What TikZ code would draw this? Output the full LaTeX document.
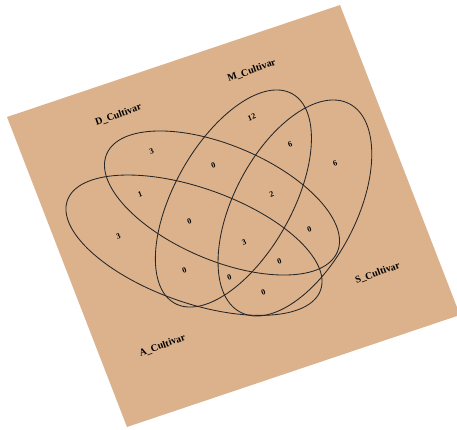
\documentclass[tikz,border=0pt]{standalone}
\usepackage{fontspec}
\setmainfont{Liberation Serif}
\definecolor{tanbg}{RGB}{219,178,140}

\begin{document}
\begin{tikzpicture}[
  x=1pt, y=1pt,
  set/.style={draw=black!85, line width=0.85pt},
  count/.style={font=\bfseries\fontsize{8}{9}\selectfont, rotate=20, inner sep=0pt},
  setname/.style={font=\bfseries\fontsize{10}{12}\selectfont, rotate=20, inner sep=0pt}
]
\useasboundingbox (0,0) rectangle (457,429);
\clip (0,0) rectangle (457,429);

% tilted background sheet
\fill[tanbg] (7,312) -- (340,424) -- (460,114) -- (127,2) -- cycle;

% set ellipses
\coordinate (cA) at (194,183.8);
\coordinate (cS) at (294.9,221);
\coordinate (cD) at (222,226);
\coordinate (cM) at (233.4,230.5);
\draw[set, rotate around={-19.5:(cA)}] (cA) ellipse (134.3 and 57.3);
\draw[set, rotate around={62.4:(cS)}] (cS) ellipse (117.6 and 61.2);
\draw[set, rotate around={-23:(cD)}] (cD) ellipse (125.3 and 57.4);
\draw[set, rotate around={60.6:(cM)}] (cM) ellipse (120.1 and 58.7);

\node[setname] (labD) at (118.3,314) {D\_Cultivar};
\node[setname] (labM) at (251.7,358.3) {M\_Cultivar};
\node[setname] (labS) at (377.7,155.7) {S\_Cultivar};
\node[setname] (labA) at (162.3,83.3) {A\_Cultivar};

\node[count] (dOnly) at (151.7,277.3) {3};
\node[count] (mOnly) at (251.7,311.7) {12};
\node[count] (ms) at (290,285) {6};
\node[count] (sOnly) at (335,265.7) {6};
\node[count] (dm) at (213.3,263.3) {0};
\node[count] (ad) at (140,235) {1};
\node[count] (dms) at (271.7,235) {2};
\node[count] (aOnly) at (118.3,192.3) {3};
\node[count] (adm) at (189.3,208) {0};
\node[count] (adms) at (244,186.7) {3};
\node[count] (ds) at (309.3,199.7) {0};
\node[count] (am) at (184.3,158.3) {0};
\node[count] (ads) at (279.3,167.3) {0};
\node[count] (ams) at (229.3,151.3) {0};
\node[count] (aS) at (263.3,136.7) {0};

\end{tikzpicture}
\end{document}
